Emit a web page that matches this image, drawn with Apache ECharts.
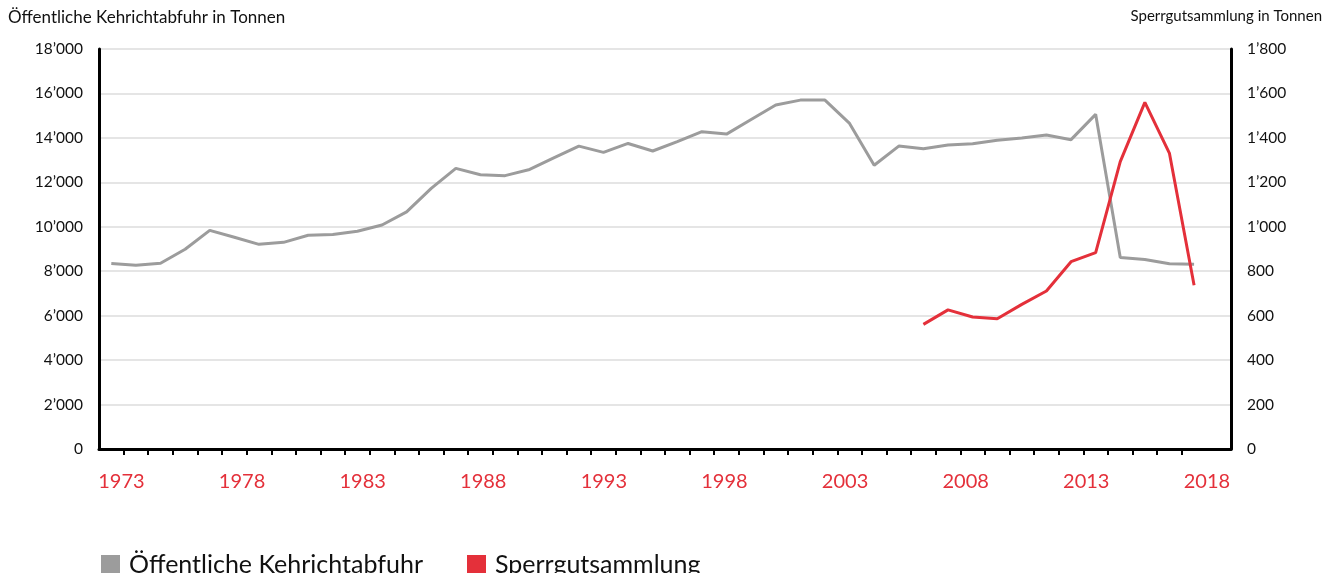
<!DOCTYPE html>
<html>
<head>
<meta charset="utf-8">
<script src="https://cdn.jsdelivr.net/npm/echarts@6/dist/echarts.min.js"></script>
<style>
  html, body { margin: 0; padding: 0; background: #fff; }
  #chart { width: 1325px; height: 573px; }
</style>
</head>
<body>
<div id="chart"></div>
<script>
// Jahre der Erhebung
const years = [
  1973, 1974, 1975, 1976, 1977, 1978, 1979, 1980, 1981, 1982,
  1983, 1984, 1985, 1986, 1987, 1988, 1989, 1990, 1991, 1992,
  1993, 1994, 1995, 1996, 1997, 1998, 1999, 2000, 2001, 2002,
  2003, 2004, 2005, 2006, 2007, 2008, 2009, 2010, 2011, 2012,
  2013, 2014, 2015, 2016, 2017
];

// Öffentliche Kehrichtabfuhr (Tonnen)
const kehricht = [
  8350, 8270, 8360, 8990, 9840, 9530, 9210, 9300, 9620, 9650,
  9800, 10080, 10670, 11730, 12630, 12340, 12300, 12580, 13110, 13630,
  13350, 13750, 13410, 13830, 14280, 14170, 14830, 15480, 15700, 15700,
  14650, 12770, 13630, 13510, 13680, 13740, 13890, 13990, 14130, 13920,
  15060, 8620, 8530, 8340, 8310
];

// Sperrgutsammlung (Tonnen), ab 2006
const sperrgutYears = [2006, 2007, 2008, 2009, 2010, 2011, 2012, 2013, 2014, 2015, 2016, 2017];
const sperrgut = [561, 626, 594, 586, 651, 711, 843, 884, 1293, 1560, 1330, 737];

// Beschriftete Jahre der Zeitachse
const tickYears = [1973, 1978, 1983, 1988, 1993, 1998, 2003, 2008, 2013, 2018];

const leftTicks = { min: 0, max: 18000, interval: 2000 };
const rightTicks = { min: 0, max: 1800, interval: 200 };

const GREY = '#9c9c9c';
const RED = '#e4303a';
const FONT = 'Lato, "Open Sans", sans-serif';

// thousands separator with typographic apostrophe
function swiss(v) {
  const s = String(Math.round(v));
  return s.replace(/\B(?=(\d{3})+(?!\d))/g, '\u2019');
}

// tick marks sit between the yearly points
const bandEdges = years.slice(0, -1).map(y => y + 0.5);

const chart = echarts.init(document.getElementById('chart'), null, { renderer: 'canvas' });

chart.setOption({
  animation: false,
  backgroundColor: '#fff',
  textStyle: { fontFamily: FONT },
  grid: { left: 99, right: 94, top: 49, bottom: 124, containLabel: false },
  graphic: [
    {
      type: 'text', left: 8, top: 9,
      style: { text: '\u00d6ffentliche Kehrichtabfuhr in Tonnen', font: '17px ' + FONT, fill: '#111' }
    },
    {
      type: 'text', right: 3, top: 9,
      style: { text: 'Sperrgutsammlung in Tonnen', font: '15px ' + FONT, fill: '#111' }
    }
  ],
  legend: {
    left: 96, top: 547,
    itemWidth: 19, itemHeight: 19, itemGap: 44,
    icon: 'rect',
    textStyle: { fontSize: 25, color: '#111', fontFamily: FONT, padding: [0, 0, 0, 4] },
    data: ['\u00d6ffentliche Kehrichtabfuhr', 'Sperrgutsammlung']
  },
  xAxis: [
    {
      type: 'value',
      min: years[0] - 0.5,
      max: years[years.length - 1] + 1.5,
      position: 'bottom',
      axisLine: { show: true, lineStyle: { color: '#000', width: 3 } },
      axisTick: { show: true, customValues: bandEdges, length: 6, lineStyle: { color: '#000', width: 2 } },
      axisLabel: { show: false },
      splitLine: { show: false }
    },
    {
      type: 'value',
      min: 1972.07,
      max: 2019.0,
      position: 'bottom',
      axisLine: { show: false },
      axisTick: { show: false },
      splitLine: { show: false },
      axisLabel: {
        show: true,
        customValues: tickYears,
        formatter: v => String(v),
        color: RED, fontSize: 20, fontFamily: FONT, margin: 23
      }
    }
  ],
  yAxis: [
    {
      type: 'value',
      min: leftTicks.min, max: leftTicks.max, interval: leftTicks.interval,
      position: 'left',
      axisLine: { show: true, lineStyle: { color: '#000', width: 3 } },
      axisTick: { show: false },
      axisLabel: { formatter: swiss, color: '#111', fontSize: 15.5, fontFamily: FONT, margin: 16 },
      splitLine: { show: true, lineStyle: { color: '#dcdcdc', width: 1.5 } }
    },
    {
      type: 'value',
      min: rightTicks.min, max: rightTicks.max, interval: rightTicks.interval,
      position: 'right',
      axisLine: { show: true, lineStyle: { color: '#000', width: 3 } },
      axisTick: { show: false },
      axisLabel: { formatter: swiss, color: '#111', fontSize: 15.5, fontFamily: FONT, margin: 16 },
      splitLine: { show: false }
    }
  ],
  series: [
    {
      name: '\u00d6ffentliche Kehrichtabfuhr',
      type: 'line',
      xAxisIndex: 0, yAxisIndex: 0,
      data: years.map((y, i) => [y, kehricht[i]]),
      symbol: 'none',
      itemStyle: { color: GREY },
      lineStyle: { color: GREY, width: 3 },
      z: 3
    },
    {
      name: 'Sperrgutsammlung',
      type: 'line',
      xAxisIndex: 0, yAxisIndex: 1,
      data: sperrgutYears.map((y, i) => [y, sperrgut[i]]),
      symbol: 'none',
      itemStyle: { color: RED },
      lineStyle: { color: RED, width: 3 },
      z: 4
    }
  ]
});
</script>
</body>
</html>
